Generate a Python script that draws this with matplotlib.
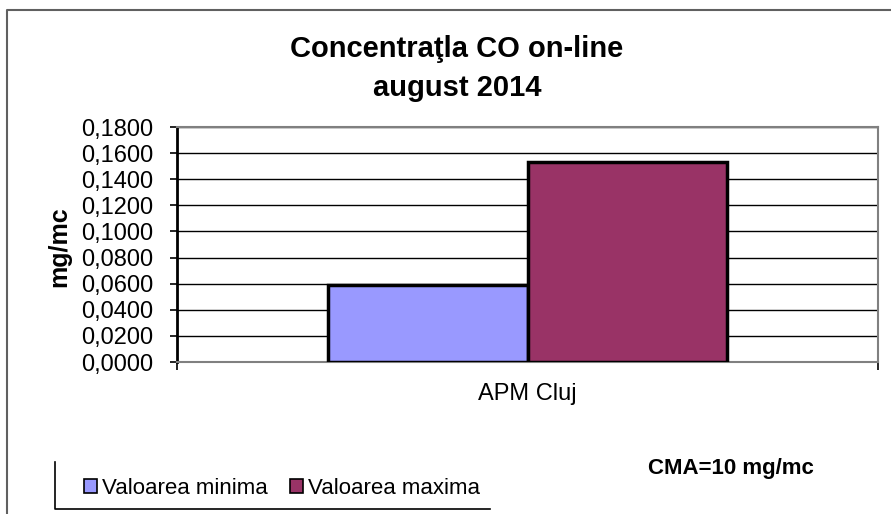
import matplotlib
matplotlib.use("Agg")
import matplotlib.pyplot as plt
from matplotlib.lines import Line2D
from matplotlib.patches import Patch
from matplotlib.ticker import FuncFormatter

# data
categories = ["APM Cluj"]
series_names = ["Valoarea minima", "Valoarea maxima"]
val_min = [0.059]
val_max = [0.153]
y_ticks = [0.0, 0.02, 0.04, 0.06, 0.08, 0.10, 0.12, 0.14, 0.16, 0.18]

title = "Concentraţla CO on-line\naugust 2014"
y_label = "mg/mc"
note = "CMA=10 mg/mc"

colors = ["#9999FF", "#993366"]

plt.rcParams["font.family"] = ["Liberation Sans", "DejaVu Sans"]

fig = plt.figure(figsize=(8.91, 5.14), dpi=100)
ax = fig.add_axes([0.1987, 0.2957, 0.7868, 0.4572])

bar_w = 0.285
xs = list(range(len(categories)))
ax.bar([x - bar_w / 2 for x in xs], val_min, width=bar_w, color=colors[0],
       edgecolor="black", linewidth=2.5, zorder=3)
ax.bar([x + bar_w / 2 for x in xs], val_max, width=bar_w, color=colors[1],
       edgecolor="black", linewidth=2.5, zorder=3)

ax.set_xlim(-0.5, len(categories) - 0.5)
ax.set_ylim(y_ticks[0], y_ticks[-1])
ax.set_yticks(y_ticks)
ax.yaxis.set_major_formatter(FuncFormatter(lambda v, p: f"{v:.4f}".replace(".", ",")))
ax.yaxis.grid(True, color="black", linewidth=1.0, zorder=1)
ax.set_axisbelow(True)

ax.set_xticks(xs)
ax.set_xticklabels(categories)
ax.set_xticks([-0.5, len(categories) - 0.5], minor=True)
ax.tick_params(axis="x", which="major", length=0, pad=15, labelsize=17)
ax.tick_params(axis="x", which="minor", length=6, width=1.2, color="black")
ax.tick_params(axis="y", which="major", length=5, width=1.2, pad=12, labelsize=17)

for side in ["top", "right", "bottom"]:
    ax.spines[side].set_color("#808080")
    ax.spines[side].set_linewidth(1.5)
ax.spines["left"].set_color("black")
ax.spines["left"].set_linewidth(2)

fig.text(0.513, 0.867, title, ha="center", va="center", fontsize=21,
         fontweight="bold", linespacing=1.5)
fig.text(0.066, 0.52, y_label, rotation=90, ha="center", va="center",
         fontsize=18, fontweight="bold")
fig.text(0.727, 0.089, note, ha="left", va="center", fontsize=16,
         fontweight="bold")

handles = [Patch(facecolor=c, edgecolor="black", linewidth=1.2) for c in colors]
fig.legend(handles, series_names, loc="center left",
           bbox_to_anchor=(0.072, 0.05), ncol=2, frameon=False,
           fontsize=16, handlelength=0.6, handleheight=0.6,
           handletextpad=0.2, columnspacing=1.0)

# outer chart border and the visible legend frame edges
fig.add_artist(Line2D([0.008, 0.008, 1.0], [0.0, 0.981, 0.981],
                      color="#606060", linewidth=1.5))
fig.add_artist(Line2D([0.062, 0.062, 0.55], [0.101, 0.010, 0.010],
                      color="black", linewidth=1.2))

fig.savefig("out.png", dpi=100)
